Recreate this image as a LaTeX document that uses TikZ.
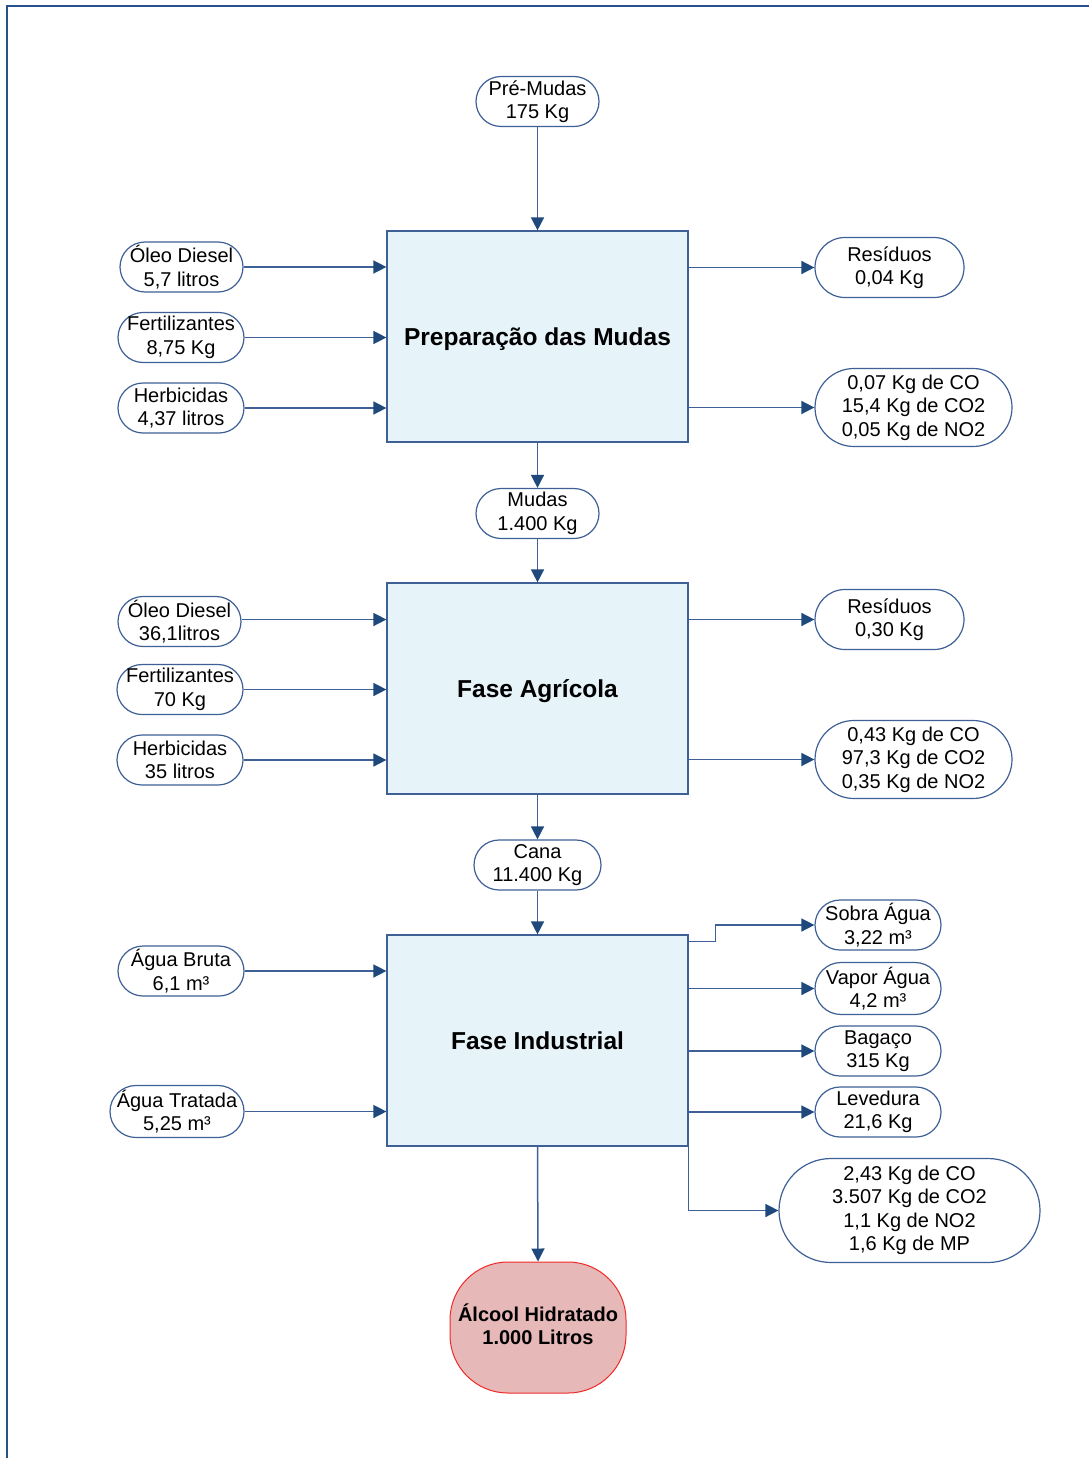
\documentclass[tikz,border=0pt]{standalone}
\usepackage{fontspec}
\setmainfont{Liberation Sans}
\usetikzlibrary{arrows.meta}
\definecolor{framec}{RGB}{40,80,140}
\definecolor{linec}{RGB}{62,96,150}
\definecolor{tipc}{RGB}{31,73,125}
\definecolor{boxfill}{RGB}{230,243,249}
\definecolor{prodfill}{RGB}{230,184,184}
\definecolor{prodline}{RGB}{240,40,40}
\begin{document}
\begin{tikzpicture}[x=1pt,y=-1pt,
  every node/.style={font=\fontsize{20}{23.5}\selectfont, align=center, inner sep=0pt},
  pill/.style={draw=linec, line width=1.2pt, fill=white, rounded corners=25pt, minimum height=50pt},
  stage/.style={draw=linec, line width=1.2pt, fill=boxfill, minimum width=301pt, minimum height=211pt,
    text height=17.5pt, text depth=0pt, font=\fontsize{24.5}{28}\selectfont\bfseries},
  flow/.style={draw=linec, line width=1.5pt, -{Triangle[length=13pt,width=13pt,fill=tipc,color=tipc]}}
]
\useasboundingbox (0,0) rectangle (1089,1458);
% outer frame (top and left edges)
\draw[framec, line width=2.5pt] (1089,6) -- (7,6) -- (7,1458);

% stages
\node[stage] (b1) at (537.5,336.5) {Preparação das Mudas};
\node[stage] (b2) at (537.5,688.5) {Fase Agrícola};
\node[stage] (b3) at (537.5,1040.5) {Fase Industrial};

% main chain
\node[pill, minimum width=123pt] (pm) at (537.5,101.5) {Pré-Mudas\\175 Kg};
\node[pill, minimum width=123pt] (mu) at (537.5,513.5) {Mudas\\1.400 Kg};
\node[pill, minimum width=127pt] (ca) at (537.5,865) {Cana\\11.400 Kg};
\node[draw=prodline, line width=1pt, fill=prodfill, rounded corners=58pt,
      minimum width=176pt, minimum height=131pt, font=\fontsize{20}{23.5}\selectfont\bfseries]
      (al) at (538,1327.5) {\raisebox{3pt}{\begin{tabular}{@{}c@{}}Álcool Hidratado\\1.000 Litros\end{tabular}}};

% inputs of the first stage
\node[pill, minimum width=123pt] (i11) at (181.5,267) {Óleo Diesel\\5,7 litros};
\node[pill, minimum width=126pt] (i12) at (181,337.5) {Fertilizantes\\8,75 Kg};
\node[pill, minimum width=126pt] (i13) at (181,408) {Herbicidas\\4,37 litros};
% outputs of the first stage
\node[pill, minimum width=149pt, minimum height=60pt, rounded corners=30pt] (o11) at (889.5,267.5) {Resíduos\\0,04 Kg};
\node[pill, minimum width=197pt, minimum height=78pt, rounded corners=39pt] (o12) at (913.5,407.5) {0,07 Kg de CO\\15,4 Kg de CO2\\0,05 Kg de NO2};

% inputs of the second stage
\node[pill, minimum width=123pt] (i21) at (179.5,621.5) {Óleo Diesel\\36,1litros};
\node[pill, minimum width=126pt] (i22) at (180,689.5) {Fertilizantes\\70 Kg};
\node[pill, minimum width=126pt] (i23) at (180,760) {Herbicidas\\35 litros};
% outputs of the second stage
\node[pill, minimum width=149pt, minimum height=60pt, rounded corners=30pt] (o21) at (889.5,619.5) {Resíduos\\0,30 Kg};
\node[pill, minimum width=197pt, minimum height=78pt, rounded corners=39pt] (o22) at (913.5,759.5) {0,43 Kg de CO\\97,3 Kg de CO2\\0,35 Kg de NO2};

% inputs of the third stage
\node[pill, minimum width=126pt] (i31) at (181,971) {Água Bruta\\6,1 m³};
\node[pill, minimum width=134pt, minimum height=52pt, rounded corners=26pt] (i32) at (177,1111.5) {Água Tratada\\5,25 m³};
% outputs of the third stage
\node[pill, minimum width=126pt] (o31) at (878,925) {Sobra Água\\3,22 m³};
\node[pill, minimum width=126pt, minimum height=52pt, rounded corners=26pt] (o32) at (878,988.5) {Vapor Água\\4,2 m³};
\node[pill, minimum width=126pt] (o33) at (878,1051) {Bagaço\\315 Kg};
\node[pill, minimum width=126pt] (o34) at (878,1112) {Levedura\\21,6 Kg};
\node[pill, minimum width=261pt, minimum height=104pt, rounded corners=52pt] (o35) at (909.5,1210.5) {2,43 Kg de CO\\3.507 Kg de CO2\\1,1 Kg de NO2\\1,6 Kg de MP};

% main flow
\draw[flow] (pm.south) -- (b1.north);
\draw[flow] (b1.south) -- (mu.north);
\draw[flow] (mu.south) -- (b2.north);
\draw[flow] (b2.south) -- (ca.north);
\draw[flow] (ca.south) -- (b3.north);
\draw[flow] (b3.south) -- (al.north);

% inputs
\draw[flow] (i11.east) -- (i11.east -| b1.west);
\draw[flow] (i12.east) -- (i12.east -| b1.west);
\draw[flow] (i13.east) -- (i13.east -| b1.west);
\draw[flow] ([yshift=2pt]i21.east) -- ([yshift=2pt]i21.east -| b2.west);
\draw[flow] (i22.east) -- (i22.east -| b2.west);
\draw[flow] (i23.east) -- (i23.east -| b2.west);
\draw[flow] (i31.east) -- (i31.east -| b3.west);
\draw[flow] (i32.east) -- (i32.east -| b3.west);

% outputs
\draw[flow] (b1.east |- o11.west) -- (o11.west);
\draw[flow] (b1.east |- o12.west) -- (o12.west);
\draw[flow] (b2.east |- o21.west) -- (o21.west);
\draw[flow] (b2.east |- o22.west) -- (o22.west);
\draw[flow] ([yshift=-7pt]b3.north east) -- ++(27,0) |- (o31.west);
\draw[flow] (b3.east |- o32.west) -- (o32.west);
\draw[flow] (b3.east |- o33.west) -- (o33.west);
\draw[flow] (b3.east |- o34.west) -- (o34.west);
\draw[flow] (b3.south east) |- (o35.west);
\end{tikzpicture}
\end{document}
